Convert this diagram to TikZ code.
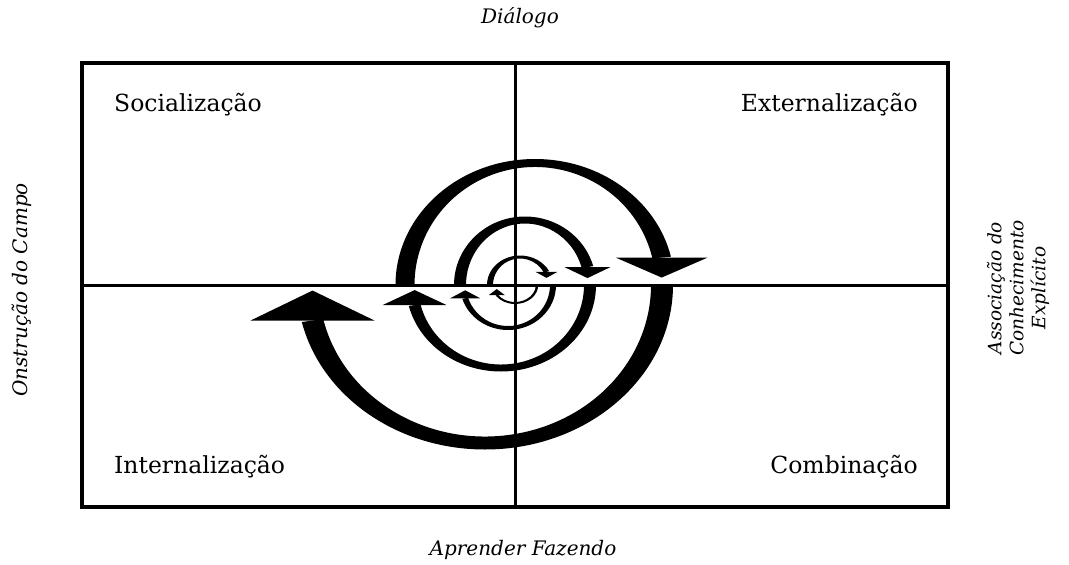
\documentclass[tikz,border=0pt]{standalone}
\usepackage{fontspec}
\setmainfont{DejaVu Serif}
\newcommand\spiralpiece[8]{%
  \begin{scope}[shift={(#1,285)}]
    \fill (#6:{#2+#4} and {#3+#5})
      arc[start angle=#6,end angle=#7,x radius={#2+#4},y radius={#3+#5}]
      -- (#7:{#2-#4} and {#3-#5})
      arc[start angle=#7,end angle=#6,x radius={#2-#4},y radius={#3-#5}]
      -- cycle;
    \coordinate (#8) at (#7:#2 and #3);
  \end{scope}}
\begin{document}
\begin{tikzpicture}[x=1pt,y=-1pt,
  quad/.style={font=\fontsize{23.5}{27}\selectfont, inner sep=0pt},
  axislab/.style={font=\fontsize{20}{23}\selectfont\itshape, inner sep=0pt, align=center},
  frame/.style={line width=3.5pt},
  cross/.style={line width=3pt},
  ]
\useasboundingbox (0,0) rectangle (1069,565);
\fill[white] (0,0) rectangle (1069,565);

% spiral (clockwise, growing outward): cx, rx, ry, side half-width, top half-width, start, end, name
\spiralpiece{515}{22}{18}{1.2}{1}{0}{146}{e1}
\fill (e1) ++(-8,0) -- ++(16,0) -- ++(-8,-6) -- cycle;
\spiralpiece{520}{30}{28}{3}{1.5}{180}{332}{e2}
\fill (e2) ++(-11,0) -- ++(22,0) -- ++(-11,6) -- cycle;
\spiralpiece{508}{45}{43}{3}{2}{0}{162}{e3}
\fill (e3) ++(-15,0) -- ++(30,0) -- ++(-15,-8) -- cycle;
\spiralpiece{525}{65}{65}{6}{3.5}{180}{344}{e4}
\fill (e4) ++(-23,0) -- ++(46,0) -- ++(-23,11) -- cycle;
\spiralpiece{501}{89}{83}{6}{3.5}{0}{166}{e5}
\fill (e5) ++(-32,0) -- ++(64,0) -- ++(-32,-15) -- cycle;
\spiralpiece{535}{130}{122}{9.5}{4}{180}{347}{e6}
\fill (e6) ++(-46,0) -- ++(92,0) -- ++(-46,20) -- cycle;
\spiralpiece{485}{177}{158}{11}{6.5}{0}{167}{e7}
\fill (e7) ++(-62,0) -- ++(124,0) -- ++(-62,-30) -- cycle;

% frame and cross
\coordinate (tl) at (82,63);
\coordinate (br) at (948,507);
\draw[frame] (tl) rectangle (br);
\coordinate (top) at (515,63);
\coordinate (bot) at (515,507);
\coordinate (lft) at (82,285);
\coordinate (rgt) at (948,285);
\draw[cross] (top) -- (bot);
\draw[cross] (lft) -- (rgt);

% quadrant labels
\node[quad, anchor=west] (soc) at (114,105) {Socialização};
\node[quad, anchor=east] (ext) at (918,105) {Externalização};
\node[quad, anchor=west] (int) at (114,467) {Internalização};
\node[quad, anchor=east] (com) at (918,467) {Combinação};

% axis labels
\node[axislab] (dia) at (520,18) {Diálogo};
\node[axislab] (apr) at (523,550) {Aprender Fazendo};
\node[axislab, rotate=90] (con) at (22,290) {Onstrução do Campo};
\node[axislab, font=\fontsize{18.5}{22}\selectfont\itshape, rotate=90] (ass) at (1018,288) {Associação do\\Conhecimento\\Explícito};
\end{tikzpicture}
\end{document}
